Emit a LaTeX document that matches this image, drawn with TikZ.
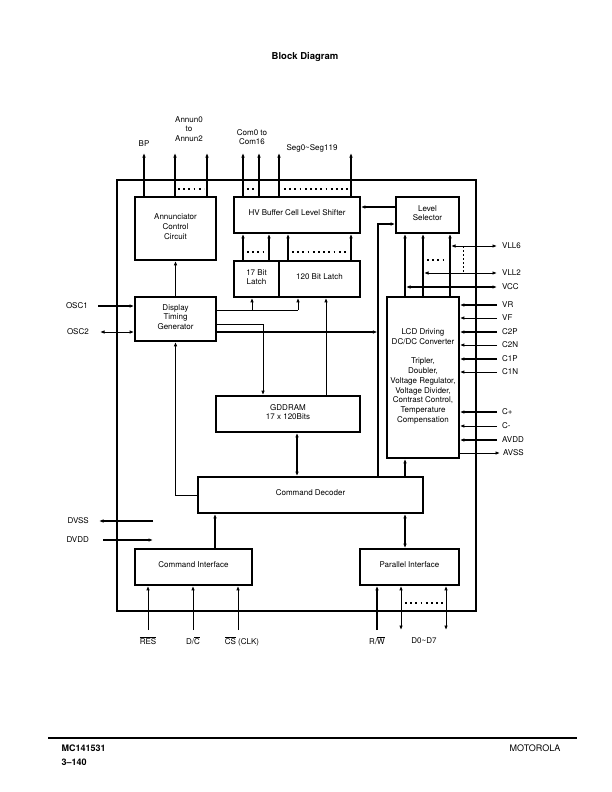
\documentclass[tikz,border=0pt]{standalone}
\usepackage{fontspec}
\setmainfont{TeX Gyre Heros}
\usetikzlibrary{arrows.meta,positioning,calc}
\newcommand\pinfont{\fontsize{8}{9.8}\selectfont}

\begin{document}
\begin{tikzpicture}[x=1pt,y=-1pt,
  heavy/.style={line width=1.8pt},
  light/.style={line width=0.9pt},
  medium/.style={line width=1.3pt},
  blk/.style={draw,heavy,inner sep=1pt,align=center,font=\pinfont,text depth=4pt},
  pintxt/.style={inner sep=0pt,font=\pinfont,align=center},
  arr/.style={-{Latex[length=4.5pt,width=3.6pt]}},
  arrtwo/.style={{Latex[length=4.5pt,width=3.6pt]}-{Latex[length=4.5pt,width=3.6pt]}},
  dotrow/.style={heavy,dash pattern=on 1.8pt off 3.4pt}
]
\useasboundingbox (0,0) rectangle (612,792);

\node[font=\fontsize{9.5}{11}\selectfont\bfseries] (title) at (305,57) {Block Diagram};

% chip outline and blocks
\node[draw,heavy,minimum width=359pt,minimum height=431pt,inner sep=0pt] (chip) at (296.5,395.5) {};
\node[blk,minimum width=81pt,minimum height=63pt] (ann) at (175.5,228.5) {Annunciator\\Control\\Circuit};
\node[blk,minimum width=126pt,minimum height=36pt] (hv) at (297,215) {HV Buffer Cell Level Shifter};
\node[blk,minimum width=63pt,minimum height=36pt] (lvl) at (427.5,215) {Level\\Selector};
\node[blk,minimum width=45pt,minimum height=36pt] (lat17) at (256.5,279) {17 Bit\\Latch};
\node[blk,minimum width=81pt,minimum height=36pt] (lat120) at (319.5,279) {120 Bit Latch};
\node[blk,minimum width=81pt,minimum height=44pt] (dtg) at (175.5,319) {Display\\Timing\\Generator};
\node[blk,minimum width=72pt,minimum height=161pt] (lcd) at (423,377.5)
  {LCD Driving\\DC/DC Converter\\[9.8pt]Tripler,\\Doubler,\\Voltage Regulator,\\Voltage Divider,\\Contrast Control,\\Temperature\\Compensation};
\node[blk,minimum width=144pt,minimum height=36pt] (ram) at (288,414) {GDDRAM\\17 x 120Bits};
\node[blk,minimum width=225pt,minimum height=36pt] (dec) at (310.5,495) {Command Decoder};
\node[blk,minimum width=117pt,minimum height=36pt] (cif) at (193.5,567) {Command Interface};
\node[blk,minimum width=99pt,minimum height=36pt] (pif) at (409.5,567) {Parallel Interface};

\coordinate (ls1) at (405,260);
\coordinate (ls2) at (423,260);
\coordinate (ls3) at (450,260);
\coordinate (lsin) at (378,224);

% top outputs
\foreach \xx [count=\i] in {144,175,207}{
  \coordinate (ta\i) at (\xx,153);
  \draw[heavy,arr] (ann.north -| ta\i) -- (ta\i);
}
\foreach \xx [count=\i] in {243,259,279,351}{
  \coordinate (th\i) at (\xx,153);
  \draw[heavy,arr] (hv.north -| th\i) -- (th\i);
}
\node[pintxt,above=6pt of ta1] {BP};
\node[pintxt] at (189,129) {Annun0\\to\\Annun2};
\node[pintxt] at (252,137) {Com0 to\\Com16};
\node[pintxt] at (312,148) {Seg0\textasciitilde Seg119};
\draw[dotrow] (178,189) -- (204,189);
\draw[dotrow] (247,189) -- (256,189);
\draw[dotrow] (284,189) -- (348,189);

% latches to shifter
\foreach \xx/\src in {243/lat17,269/lat17,288/lat120,351/lat120}{
  \coordinate (lq) at (\xx,0);
  \draw[heavy,arr] (\src.north -| lq) -- (hv.south -| lq);
}
\draw[dotrow] (247,252) -- (266,252);
\draw[dotrow] (292,252) -- (348,252);

% level selector
\draw[medium,arr] ([yshift=8pt]lvl.west) -- ([yshift=8pt]hv.east);
\draw[medium,arr] (dec.north -| lsin) |- (lvl.west |- lsin);
\foreach \c in {ls1,ls2,ls3}
  \draw[heavy,arr] (lcd.north -| \c) -- (lvl.south -| \c);

\coordinate (v6) at (497,246);
\coordinate (v2) at (497,273);
\coordinate (vc) at (497,287);
\draw[light,arrtwo,shorten <=1pt] (ls3 |- v6) -- (v6);
\draw[light,arrtwo,shorten <=1pt] (ls2 |- v2) -- (v2);
\draw[heavy,arrtwo,shorten <=1pt] (ls1 |- vc) -- (vc);
\node[pintxt,right=5pt of v6] {VLL6};
\node[pintxt,right=5pt of v2] {VLL2};
\node[pintxt,right=5pt of vc] {VCC};
\draw[light,dash pattern=on 2pt off 2pt] (463,246) -- (463,273);
\draw[dotrow] (427,260) -- (447,260);

% converter pins
\foreach \yy/\lbl/\lnw [count=\i] in {305/VR/heavy,318/VF/light,332/C2P/heavy,345/C2N/light,
    359/C1P/heavy,372/C1N/light,412/C+/heavy,426/C-/light,440/AVDD/heavy}{
  \coordinate (r\i) at (497,\yy);
  \draw[\lnw,arr] (r\i) -- (lcd.east |- r\i);
  \node[pintxt,right=5pt of r\i] {\lbl};
}
\coordinate (avs) at (500,453);
\draw[light,arr] (lcd.east |- avs) -- (avs);
\node[pintxt,right=3pt of avs] {AVSS};

% oscillator and timing
\coordinate (o1) at (98,306);
\coordinate (o2) at (100,332);
\draw[heavy,arr] (o1) -- (dtg.west |- o1);
\draw[light,arrtwo] (o2) -- (dtg.west |- o2);
\node[pintxt,left=10pt of o1] {OSC1};
\node[pintxt,left=11pt of o2] {OSC2};

\coordinate (d1) at ([yshift=9pt]dtg.east);
\coordinate (d2) at ([yshift=-5pt]dtg.east);
\coordinate (d3) at ([yshift=-13pt]dtg.east);
\coordinate (tl1) at (252,310);
\coordinate (tl2) at (298,310);
\draw[light] (d1) -- (tl2);
\draw[light,arr] (tl1) -- (lat17.south -| tl1);
\draw[light,arr] (tl2) -- (lat120.south -| tl2);
\draw[light,arr] (d2) -| ([xshift=-25pt]ram.north);
\draw[heavy,arr,shorten >=0.6pt] (d3) -- (d3 -| lsin);
\draw[light,arr] (dtg.north) -- (ann.south);
\draw[light,arr] (dec.west) -| (dtg.south);

% memory and decoder
\coordinate (rq) at ([xshift=38pt]ram.north);
\draw[light,arr] (rq) -- (lat120.south -| rq);
\coordinate (rd) at ([xshift=9pt]ram.south);
\draw[heavy,arrtwo] (rd) -- (dec.north -| rd);
\draw[heavy,arr] (dec.north -| ls1) -- (lcd.south -| ls1);
\coordinate (cd) at ([xshift=21.5pt]cif.north);
\draw[heavy,arr] (cd) -- (dec.south -| cd);
\draw[heavy,arrtwo] (pif.north -| ls1) -- (dec.south -| ls1);

% supply pins
\coordinate (dsi) at (153,521);
\coordinate (dso) at (99,521);
\coordinate (ddo) at (103,540);
\coordinate (ddi) at (153,540);
\draw[heavy,arr] (dsi) -- (dso);
\draw[heavy,arr] (ddo) -- (ddi);
\node[pintxt,left=10pt of dso] {DVSS};
\node[pintxt,left=14pt of ddo] {DVDD};

% interface pins
\foreach \xx [count=\i] in {148,193,238}{
  \coordinate (b\i) at (\xx,630);
  \draw[light,arr] (b\i) -- (cif.south -| b\i);
}
\coordinate (b4) at (377,630);
\coordinate (b5) at (401,630);
\coordinate (b6) at (446,630);
\draw[heavy,arr] (b4) -- (pif.south -| b4);
\draw[light,arrtwo] (pif.south -| b5) -- (b5);
\draw[light,arrtwo] (pif.south -| b6) -- (b6);
\draw[dotrow] (405,603) -- (444,603);
\node[pintxt,below=6pt of b1] {$\overline{\mbox{RES}}$};
\node[pintxt,below=6pt of b2] {D/$\overline{\mbox{C}}$};
\node[pintxt,below=6pt of b3,xshift=4pt] {$\overline{\mbox{CS}}$ (CLK)};
\node[pintxt,below=6pt of b4] {R/$\overline{\mbox{W}}$};
\node[pintxt] at (424,641) {D0\textasciitilde D7};

% footer
\draw[line width=2.5pt] (48,738) -- (577,738);
\node[font=\fontsize{9}{11}\selectfont\bfseries,anchor=west] (part) at (58,748) {MC141531};
\node[font=\fontsize{9}{11}\selectfont\bfseries,anchor=west] (page) at (58,762) {3--140};
\node[font=\fontsize{9}{11}\selectfont,anchor=east] (brand) at (564,748) {MOTOROLA};
\end{tikzpicture}
\end{document}
